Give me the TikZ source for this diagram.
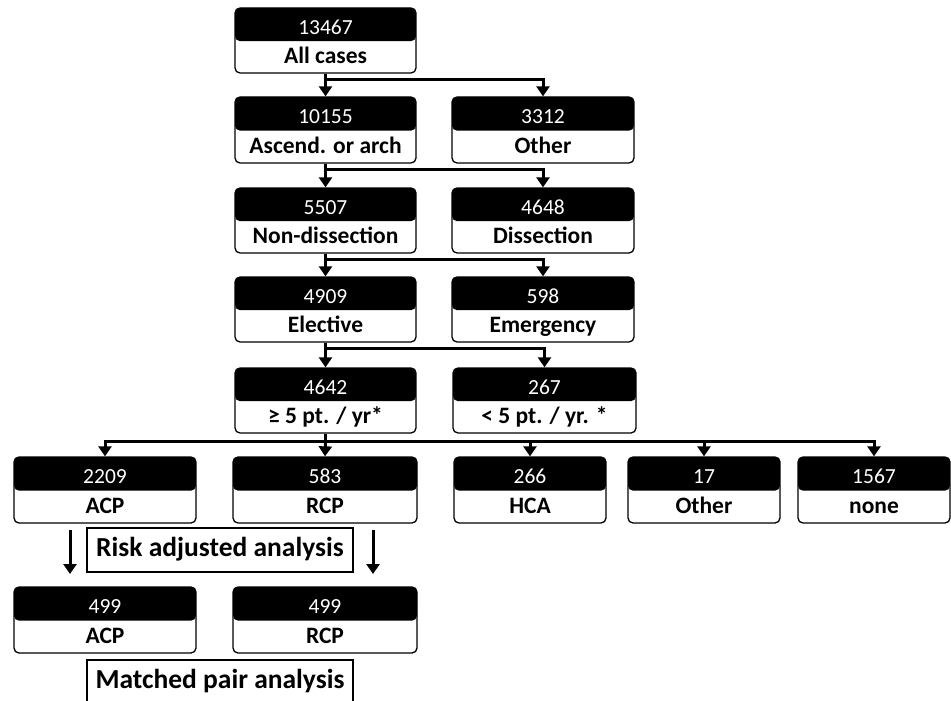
\documentclass[tikz,border=0pt]{standalone}
\usepackage{fontspec}
\setmainfont{Carlito}
\usetikzlibrary{calc,arrows.meta}
\tikzset{
  fbox/.style={draw=black, line width=1.3pt, rounded corners=5pt, inner sep=0pt, fill=white,
    path picture={\fill[black] (path picture bounding box.north west) rectangle ($(path picture bounding box.north east)!0.51!(path picture bounding box.south east)$);}},
  numtxt/.style={text=white, font=\fontsize{21.5}{21.5}\selectfont, inner sep=0pt, text height=14pt, text depth=1pt},
  labtxt/.style={text=black, font=\bfseries\fontsize{23.5}{23.5}\selectfont, inner sep=0pt, text height=15pt, text depth=4pt},
  notebox/.style={draw=black, line width=1.3pt, inner sep=0pt, font=\bfseries\fontsize{27.5}{27.5}\selectfont, text height=19pt, text depth=6pt},
  conn/.style={line width=3pt, draw=black},
  arr/.style={conn, -{Triangle[width=13pt,length=10pt]}}
}
\newcommand\flowbox[7]{%
  \node[fbox, minimum width={(#4-#2)*1pt}, minimum height={(#5-#3)*1pt}] (#1) at ({(#2+#4)/2},{(#3+#5)/2}) {};
  \node[numtxt] (#1n) at ($(#1.north)!0.31!(#1.south)$) {#6};
  \node[labtxt] (#1l) at ($(#1.north)!0.77!(#1.south)$) {#7};
}
\begin{document}
\begin{tikzpicture}[x=1pt,y=-1pt]
\useasboundingbox (0,0) rectangle (951,701);
\flowbox{a}{235}{8}{416}{73}{13467}{All cases}
\flowbox{b}{235}{97}{416}{163}{10155}{Ascend. or arch}
\flowbox{c}{452}{97}{634}{163}{3312}{Other}
\flowbox{d}{235}{188}{416}{253}{5507}{Non-dissection}
\flowbox{e}{452}{188}{634}{253}{4648}{Dissection}
\flowbox{f}{235}{277}{416}{342}{4909}{Elective}
\flowbox{g}{452}{277}{634}{342}{598}{Emergency}
\flowbox{h}{235}{368}{416}{433}{4642}{≥ 5 pt. / yr*}
\flowbox{i}{453}{368}{636}{433}{267}{< 5 pt. / yr. *}
\flowbox{j}{14}{457}{196}{523}{2209}{ACP}
\flowbox{k}{233}{457}{417}{523}{583}{RCP}
\flowbox{l}{454}{457}{606}{523}{266}{HCA}
\flowbox{m}{628}{457}{780}{523}{17}{Other}
\flowbox{n}{798}{457}{950}{523}{1567}{none}
\flowbox{o}{14}{587}{196}{653}{499}{ACP}
\flowbox{p}{233}{587}{417}{653}{499}{RCP}
\node[notebox, minimum width=266pt, minimum height=44pt] (risk) at (220,550) {Risk adjusted analysis};
\node[notebox, minimum width=266pt, minimum height=44pt] (match) at (220,682) {Matched pair analysis};
% connectors
\draw[arr] (a.south) -- (b.north);
\draw[arr] (a.south) -- ++(0,6) -| (c.north);
\draw[arr] (b.south) -- (d.north);
\draw[arr] (b.south) -- ++(0,6) -| (e.north);
\draw[arr] (d.south) -- (f.north);
\draw[arr] (d.south) -- ++(0,6) -| (g.north);
\draw[arr] (f.south) -- (h.north);
\draw[arr] (f.south) -- ++(0,6) -| (i.north);
\draw[conn] (h.south) -- ++(0,8) coordinate (hb);
\draw[arr] (hb) -| (j.north);
\draw[arr] (hb) -- (k.north);
\draw[arr] (hb) -| (l.north);
\draw[arr] (hb) -| (m.north);
\draw[arr] (hb) -| (n.north);
\coordinate (s1) at (70,530);
\coordinate (e1) at (70,574);
\coordinate (s2) at (373,530);
\coordinate (e2) at (373,574);
\draw[arr] (s1) -- (e1);
\draw[arr] (s2) -- (e2);
\end{tikzpicture}
\end{document}
